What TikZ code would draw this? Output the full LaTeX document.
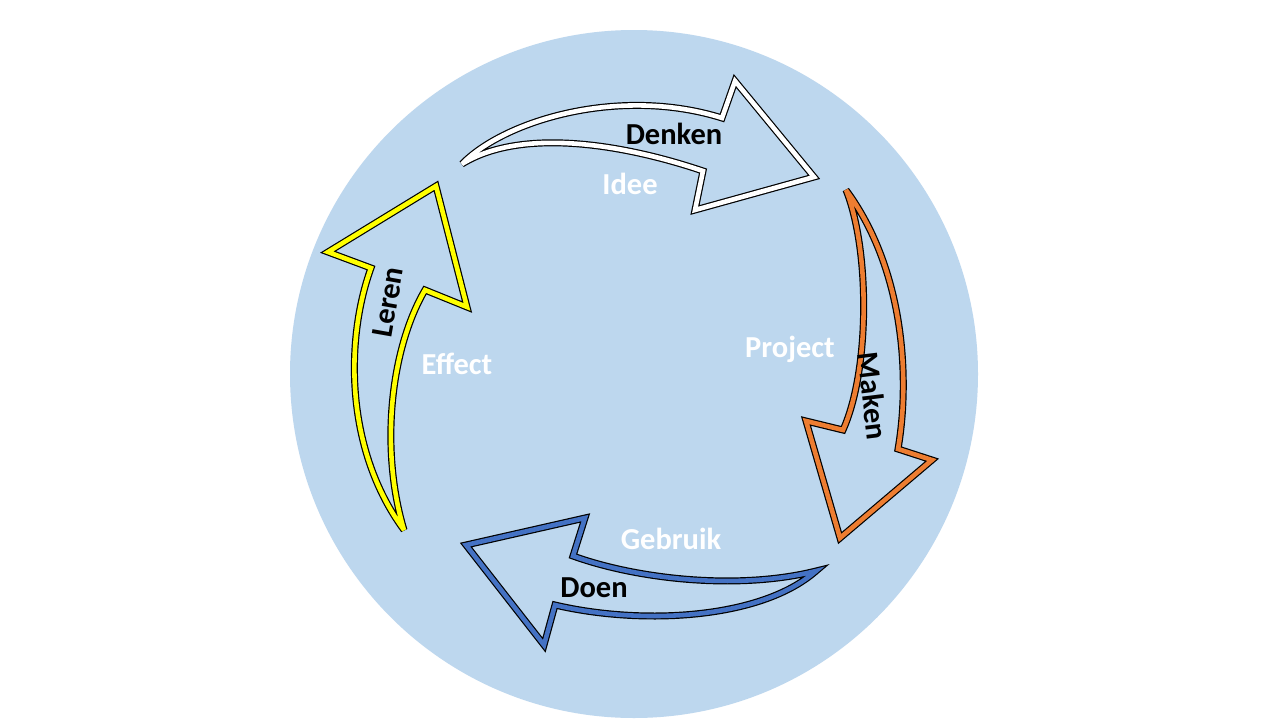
\documentclass[tikz,border=0pt]{standalone}
\usepackage{fontspec}
\setmainfont{Carlito}
\definecolor{circbg}{HTML}{BDD7EE}
\definecolor{orng}{HTML}{ED7D31}
\definecolor{blu}{HTML}{4472C4}
\definecolor{yel}{HTML}{FFFF00}
\tikzset{
  outerline/.style={draw=black, line width=7pt, line join=miter, miter limit=5},
  innerline/.style={line width=4.6pt, line join=miter, miter limit=5},
  lbl/.style={font=\fontsize{30.5}{36}\selectfont\bfseries, inner sep=0pt},
  darklbl/.style={lbl, text=black},
  lightlbl/.style={lbl, text=white},
}
\begin{document}
\begin{tikzpicture}[x=1pt,y=-1pt]
\useasboundingbox (0,0) rectangle (1280,720);
\fill[white] (0,0) rectangle (1280,720);
\node[circle, fill=circbg, minimum size=688pt, inner sep=0pt] (circ) at (634,374) {};

% top arrow (Denken)
\foreach \st/\col in {outerline/black, innerline/white}{
\draw[\st, draw=\col] (462,164) .. controls (505,120) and (620,86) .. (722,118)
  -- (735,81) -- (814,177) -- (695,210) -- (703,171)
  .. controls (620,143) and (520,128) .. cycle;
}
% right arrow (Maken)
\foreach \st/\col in {outerline/black, innerline/orng}{
\draw[\st, draw=\col] (846,190) .. controls (870,250) and (870,370) .. (843,430)
  -- (806,421) -- (840,538) -- (932,460) -- (898,449)
  .. controls (910,380) and (905,270) .. cycle;
}
% bottom arrow (Doen)
\foreach \st/\col in {outerline/black, innerline/blu}{
\draw[\st, draw=\col] (816,571) .. controls (740,590) and (640,580) .. (573,556)
  -- (585,518) -- (466,545) -- (544,645) -- (555,605)
  .. controls (640,625) and (760,620) .. cycle;
}
% left arrow (Leren)
\foreach \st/\col in {outerline/black, innerline/yel}{
\draw[\st, draw=\col] (404,530) .. controls (380,450) and (390,350) .. (425,290)
  -- (467,307) -- (436,186) -- (328,252) -- (371,268)
  .. controls (345,340) and (345,450) .. cycle;
}

\node[darklbl] (denken) at (674,134) {Denken};
\node[lightlbl] (idee) at (630,184) {Idee};
\node[darklbl, rotate=80] (leren) at (388,302) {Leren};
\node[lightlbl] (effect) at (457,364) {Effect};
\node[lightlbl] (project) at (790,349) {Project};
\node[darklbl, rotate=-83] (maken) at (873,396) {Maken};
\node[lightlbl] (gebruik) at (671,539) {Gebruik};
\node[darklbl] (doen) at (594,588) {Doen};
\end{tikzpicture}
\end{document}
